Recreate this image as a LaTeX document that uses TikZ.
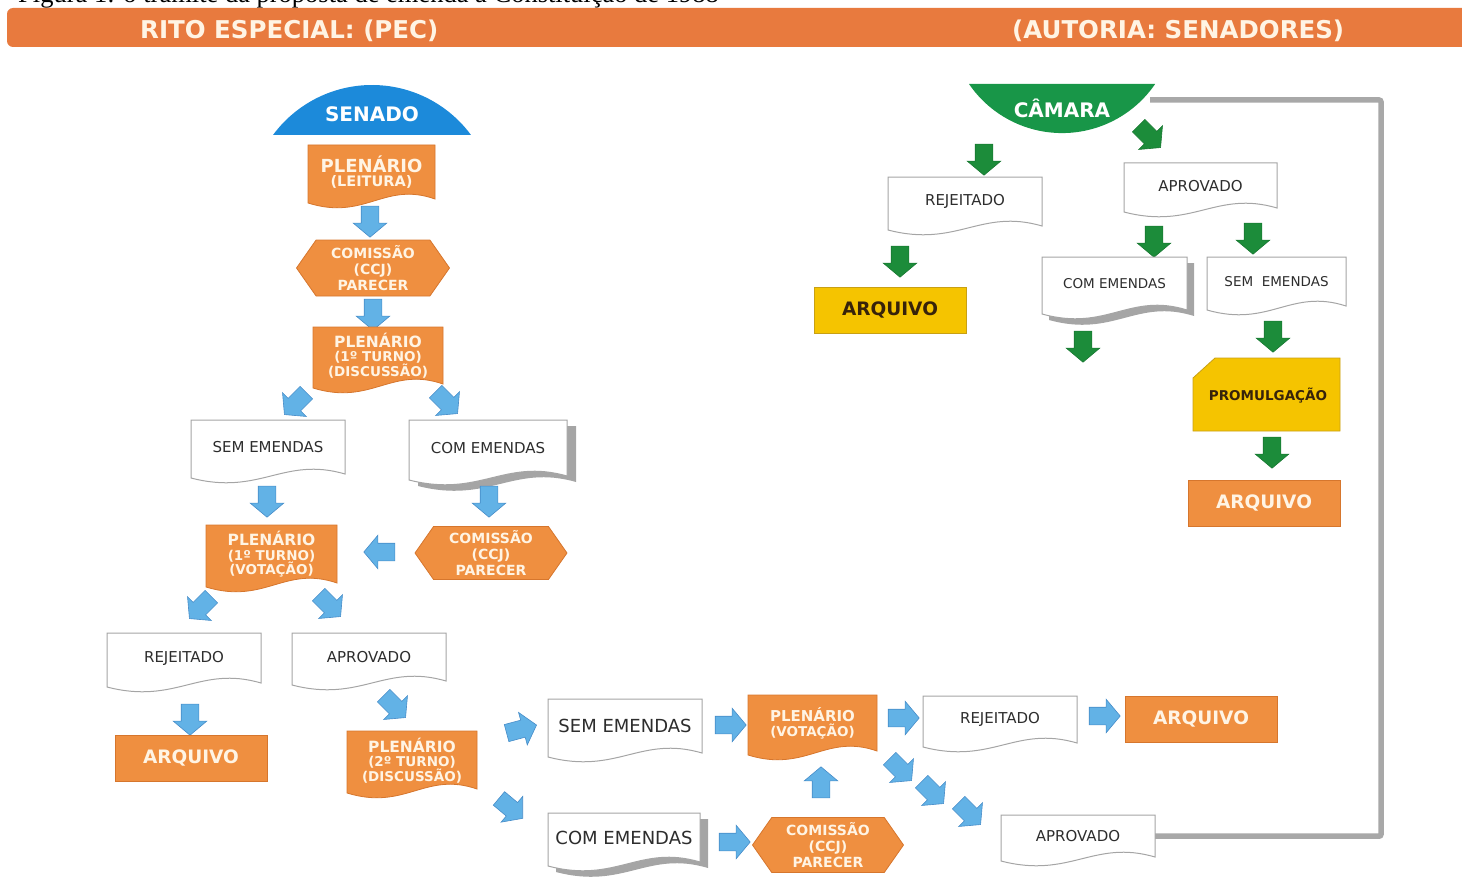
\documentclass[tikz,border=0pt]{standalone}
\usepackage{fontspec}
\setmainfont{DejaVu Sans}
\newfontfamily\capfont{Liberation Serif}
\usetikzlibrary{shapes.arrows,shapes.symbols}
\definecolor{hdr}{RGB}{232,122,62}
\definecolor{org}{RGB}{239,143,64}
\definecolor{orgd}{RGB}{214,118,45}
\definecolor{ylw}{RGB}{245,196,0}
\definecolor{ylwd}{RGB}{200,160,20}
\definecolor{sblue}{RGB}{28,138,218}
\definecolor{cgreen}{RGB}{24,150,72}
\definecolor{agreen}{RGB}{28,140,58}
\definecolor{ablue}{RGB}{98,178,230}
\definecolor{ablued}{RGB}{70,140,200}
\definecolor{docd}{RGB}{165,165,165}
\definecolor{shad}{RGB}{165,165,165}
\definecolor{txt}{RGB}{45,45,45}
\definecolor{cream}{RGB}{255,244,228}
\definecolor{conn}{RGB}{168,168,168}
\definecolor{ytxt}{RGB}{55,35,10}
% document shape: #1 style, #2 x1, #3 y1, #4 x2, #5 y2 (lowest point)
\newcommand\docshape[5]{%
  \path[#1] ({#2},{#3}) -- ({#4},{#3}) -- ({#4},{(#5)-10})
    .. controls ({(#2)+0.6*((#4)-(#2))},{(#5)-28}) and ({(#2)+0.45*((#4)-(#2))},{(#5)+12}) ..
    ({#2},{(#5)-6}) -- cycle;}
% document box with named text node: #1 name, #2 kind, #3-#6 box, #7 text
\newcommand\docbox[7]{%
  \docshape{#2 shape}{#3}{#4}{#5}{#6}%
  \node[#2 text, inner sep=0pt, minimum width={(#5)-(#3)}, minimum height={(#6)-(#4)-10}, anchor=north]
    (#1) at ({((#3)+(#5))/2},{#4}) {#7};}
\tikzset{
  od shape/.style={fill=org, draw=orgd, line width=0.8},
  od text/.style={text=cream, align=center, font=\bfseries\fontsize{13.5}{14.5}\selectfont},
  wd shape/.style={fill=white, draw=docd, line width=1},
  wd text/.style={text=txt, align=center, font=\fontsize{15}{16}\selectfont},
  wdL text/.style={wd text, font=\fontsize{18}{19}\selectfont},
  wdS text/.style={wd text, font=\fontsize{13.5}{15}\selectfont},
  wdL shape/.style={wd shape},
  wdS shape/.style={wd shape},
  sh shape/.style={fill=shad, draw=none},
  arqbox/.style={fill=org, draw=orgd, line width=0.8, minimum width=152, minimum height=46, inner sep=0pt,
    text=cream, font=\bfseries\fontsize{18.5}{19}\selectfont},
  yarqbox/.style={arqbox, fill=ylw, draw=ylwd, text=ytxt},
  hexa/.style={signal, signal to=west and east, signal pointer angle=110, fill=org, draw=orgd,
    line width=0.8, inner sep=0pt, text=cream, align=center, font=\bfseries\fontsize{14}{16}\selectfont},
  barrow/.style={single arrow, single arrow head extend=8pt, single arrow tip angle=100,
    inner xsep=0pt, inner ysep=8.5pt, minimum height=31pt, fill=ablue, draw=ablued, line width=0.6},
  garrow/.style={barrow, fill=agreen, draw=agreen!85!black},
  hdrtext/.style={anchor=west, inner sep=0pt, text=cream, font=\bfseries\fontsize{24.5}{25}\selectfont},
  connline/.style={draw=conn, line width=5.5, rounded corners=2}
}
\begin{document}
\begin{tikzpicture}[x=1pt,y=-1pt]
\useasboundingbox (0,0) rectangle (1462,880);
% caption (cut off at top, as in the reference)
\node[anchor=base west, inner sep=0pt, font=\capfont\fontsize{26.5}{27}\selectfont] (cap) at (18,2.5)
  {Figura 1: o trâmite da proposta de emenda à Constituição de 1988};
% header bar
\path[fill=hdr, rounded corners=6] (7,8) rectangle (1470,47);
\node[hdrtext] (h1) at (140,30.5) {RITO ESPECIAL: (PEC)};
\node[hdrtext] (h2) at (1012,30.5) {(AUTORIA: SENADORES)};

% ===== SENADO =====
\path[fill=sblue] (273,135) arc[start angle=-143.6, end angle=-36.4, radius=123] -- cycle;
\node[text=white, font=\bfseries\fontsize{20}{20}\selectfont] (senado) at (372,114) {SENADO};
\docbox{leit}{od}{308}{145}{435}{209}{{\fontsize{18}{18}\selectfont PLENÁRIO}\\{\fontsize{14.5}{18}\selectfont (LEITURA)}}
\node[barrow, rotate=-90] (a1) at (370,218) {};
\node[hexa, minimum width=153, minimum height=56] (com1) at (373,268) {COMISSÃO\\(CCJ)\\PARECER};
\node[barrow, rotate=-90] (a2) at (373,311) {};
\docbox{p1d}{od}{313}{327}{443}{394}{{\fontsize{15.5}{14.5}\selectfont PLENÁRIO}\\(1º TURNO)\\(DISCUSSÃO)}
\node[barrow, rotate=-135] (a3) at (298,401) {};
\node[barrow, rotate=-45] (a4) at (444,400) {};
\docbox{semE1}{wd}{191}{420}{345}{484}{SEM EMENDAS}
\docshape{sh shape}{418}{426}{576}{492}
\docbox{comE1}{wd}{409}{420}{567}{486}{COM EMENDAS}
\node[barrow, rotate=-90] (a5) at (267,498) {};
\node[barrow, rotate=-90] (a6) at (489,498) {};
\docbox{p1v}{od}{206}{525}{337}{593}{{\fontsize{15.5}{14.5}\selectfont PLENÁRIO}\\(1º TURNO)\\(VOTAÇÃO)}
\node[hexa, minimum width=152, minimum height=53] (com2) at (491,553) {COMISSÃO\\(CCJ)\\PARECER};
\node[barrow, rotate=180] (a7) at (383,552) {};
\node[barrow, rotate=-135] (a8) at (203,605) {};
\node[barrow, rotate=-45] (a9) at (327,603) {};
\docbox{rej1}{wd}{107}{633}{261}{693}{REJEITADO}
\docbox{apr1}{wd}{292}{633}{446}{691}{APROVADO}
\node[barrow, rotate=-90] (a10) at (190,716) {};
\node[arqbox] (arq1) at (191,758) {ARQUIVO};
\node[barrow, rotate=-45] (a11) at (392,704) {};
\docbox{p2d}{od}{347}{731}{477}{799}{{\fontsize{15.5}{14.5}\selectfont PLENÁRIO}\\(2º TURNO)\\(DISCUSSÃO)}
\node[barrow, rotate=15] (a12) at (518,730) {};
\node[barrow, rotate=-40] (a13) at (508,806) {};
\docbox{semE2}{wdL}{548}{699}{702}{763}{SEM EMENDAS}
\docshape{sh shape}{556}{819}{708}{878}
\docbox{comE2}{wdL}{548}{813}{700}{872}{COM EMENDAS}
\node[barrow] (a14) at (727,725) {};
\docbox{pv}{od}{748}{695}{877}{761}{{\fontsize{15}{15}\selectfont PLENÁRIO}\\(VOTAÇÃO)}
\node[barrow] (a15) at (900,718) {};
\docbox{rej2}{wd}{923}{696}{1077}{753}{REJEITADO}
\node[barrow] (a16) at (1101,716) {};
\node[arqbox] (arq2) at (1201,719) {ARQUIVO};
\node[barrow] (a17) at (731,842) {};
\node[hexa, minimum width=151, minimum height=55] (com3) at (828,845) {COMISSÃO\\(CCJ)\\PARECER};
\node[barrow, rotate=90] (a18) at (821,786) {};
\node[barrow, rotate=-45] (a19) at (898,767) {};
\node[barrow, rotate=-45] (a20) at (930,790) {};
\node[barrow, rotate=-45] (a21) at (967,811) {};
\docbox{apr2}{wd}{1001}{815}{1155}{867}{APROVADO}

% ===== CAMARA =====
\path[fill=cgreen] (969,84) arc[start angle=145.6, end angle=34.4, radius=112.8] -- cycle;
\node[text=white, font=\bfseries\fontsize{20}{20}\selectfont] (camara) at (1062,108) {CÂMARA};
\node[garrow, rotate=-90] (g1) at (984,156) {};
\node[garrow, rotate=-45] (g2) at (1147,134) {};
\docbox{rej3}{wd}{888}{177}{1042}{236}{REJEITADO}
\docbox{apr3}{wd}{1124}{163}{1277}{218}{APROVADO}
\node[garrow, rotate=-90] (g3) at (900,258) {};
\node[yarqbox] (arq3) at (890,310) {ARQUIVO};
\node[garrow, rotate=-90] (g4) at (1154,238) {};
\node[garrow, rotate=-90] (g5) at (1253,235) {};
\docshape{sh shape}{1049}{263}{1194}{326}
\docbox{comE3}{wdS}{1042}{257}{1187}{320}{COM EMENDAS}
\docbox{semE3}{wdS}{1207}{257}{1346}{316}{SEM\ \ EMENDAS}
\node[garrow, rotate=-90] (g6) at (1083,343) {};
\node[garrow, rotate=-90] (g7) at (1273,333) {};
\path[fill=ylw, draw=ylwd, line width=0.8] (1215,358) -- (1340,358) -- (1340,431) -- (1193,431) -- (1193,378) -- cycle;
\node[text=ytxt, font=\bfseries\fontsize{13.5}{14}\selectfont] (prom) at (1268,396) {PROMULGAÇÃO};
\node[garrow, rotate=-90] (g8) at (1272,449) {};
\node[arqbox] (arq4) at (1264,503) {ARQUIVO};

% return connector to Camara
\coordinate (gcA) at (1381,842);
\coordinate (gcB) at (1381,100);
\coordinate (camR) at (1150,100);
\draw[connline] (apr2.east) -- (apr2.east -| gcA) -- (gcB) -- (camR);
\end{tikzpicture}
\end{document}
